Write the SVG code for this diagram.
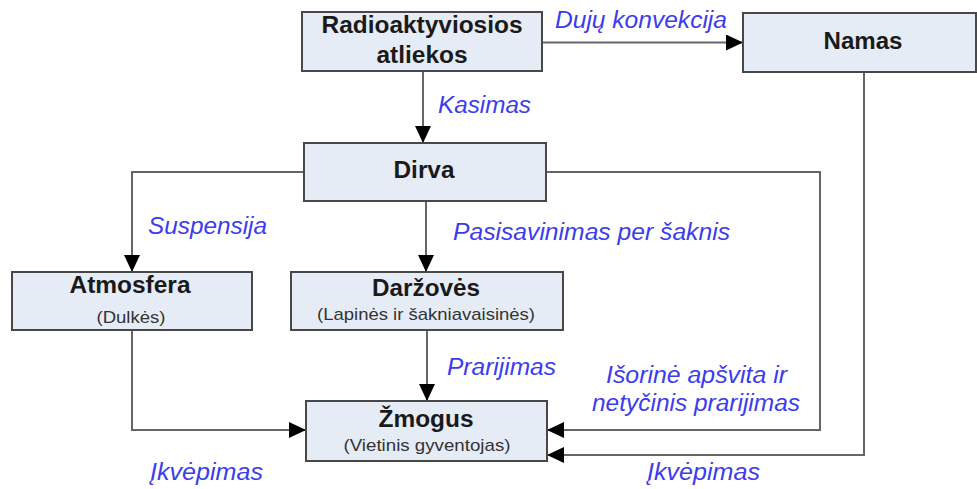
<svg xmlns="http://www.w3.org/2000/svg" width="977" height="489" viewBox="0 0 977 489">
<defs>
<marker id="ah" markerUnits="userSpaceOnUse" markerWidth="18" markerHeight="16" refX="17" refY="8" orient="auto">
<path d="M0,0 L17,8 L0,16 z" fill="#000"/>
</marker>
<style>
.box{fill:#e6ecf6;stroke:#484848;stroke-width:2}
.t{font-family:"Liberation Sans",Arial,sans-serif;font-weight:bold;font-size:23px;fill:#1a1a1a;text-anchor:middle}
.s{font-family:"Liberation Sans",Arial,sans-serif;font-size:17px;fill:#333;text-anchor:middle}
.l{font-family:"Liberation Sans",Arial,sans-serif;font-style:italic;font-size:23px;fill:#3c3cee}
.c{fill:none;stroke:#666;stroke-width:2;marker-end:url(#ah)}
</style>
</defs>
<rect width="977" height="489" fill="#fff"/>
<g id="connectors">
<path class="c" d="M542,42.5 H743"/>
<path class="c" d="M423,71 V143"/>
<path class="c" d="M304,172 H132 V272"/>
<path class="c" d="M426,201 V272"/>
<path class="c" d="M546,172 H820 V430 H547"/>
<path class="c" d="M132,330 V430 H306"/>
<path class="c" d="M427,330 V401"/>
<path class="c" d="M864,72 V455 H547"/>
</g>
<g id="labels">
<text class="l" x="555" y="28" textLength="172" lengthAdjust="spacingAndGlyphs">Dujų konvekcija</text>
<text class="l" x="438" y="113" textLength="93" lengthAdjust="spacingAndGlyphs">Kasimas</text>
<text class="l" x="148" y="234" textLength="119" lengthAdjust="spacingAndGlyphs">Suspensija</text>
<text class="l" x="453" y="240" textLength="277" lengthAdjust="spacingAndGlyphs">Pasisavinimas per šaknis</text>
<text class="l" x="447" y="375" textLength="109" lengthAdjust="spacingAndGlyphs">Prarijimas</text>
<text class="l" x="606" y="383" textLength="181" lengthAdjust="spacingAndGlyphs">Išorinė apšvita ir</text>
<text class="l" x="592" y="411" textLength="208" lengthAdjust="spacingAndGlyphs">netyčinis prarijimas</text>
<text class="l" x="150" y="480" textLength="113" lengthAdjust="spacingAndGlyphs">Įkvėpimas</text>
<text class="l" x="647" y="480" textLength="113" lengthAdjust="spacingAndGlyphs">Įkvėpimas</text>
</g>
<g id="radioaktyviosios">
<rect class="box" x="302" y="12" width="240" height="59"/>
<text class="t" x="422" y="33" textLength="201" lengthAdjust="spacingAndGlyphs">Radioaktyviosios</text>
<text class="t" x="422" y="63" textLength="91" lengthAdjust="spacingAndGlyphs">atliekos</text>
</g>
<g id="namas">
<rect class="box" x="743" y="13" width="233" height="59"/>
<text class="t" x="863" y="49" textLength="79" lengthAdjust="spacingAndGlyphs">Namas</text>
</g>
<g id="dirva">
<rect class="box" x="304" y="143" width="242" height="58"/>
<text class="t" x="424" y="178" textLength="61" lengthAdjust="spacingAndGlyphs">Dirva</text>
</g>
<g id="atmosfera">
<rect class="box" x="12" y="272" width="240" height="58"/>
<text class="t" x="130" y="293" textLength="121" lengthAdjust="spacingAndGlyphs">Atmosfera</text>
<text class="s" x="131" y="323" textLength="69" lengthAdjust="spacingAndGlyphs">(Dulkės)</text>
</g>
<g id="darzoves">
<rect class="box" x="291" y="272" width="272" height="58"/>
<text class="t" x="426" y="296" textLength="108" lengthAdjust="spacingAndGlyphs">Daržovės</text>
<text class="s" x="426" y="320" textLength="218" lengthAdjust="spacingAndGlyphs">(Lapinės ir šakniavaisinės)</text>
</g>
<g id="zmogus">
<rect class="box" x="306" y="401" width="241" height="60"/>
<text class="t" x="426" y="427" textLength="95" lengthAdjust="spacingAndGlyphs">Žmogus</text>
<text class="s" x="427" y="451" textLength="167" lengthAdjust="spacingAndGlyphs">(Vietinis gyventojas)</text>
</g>
</svg>
